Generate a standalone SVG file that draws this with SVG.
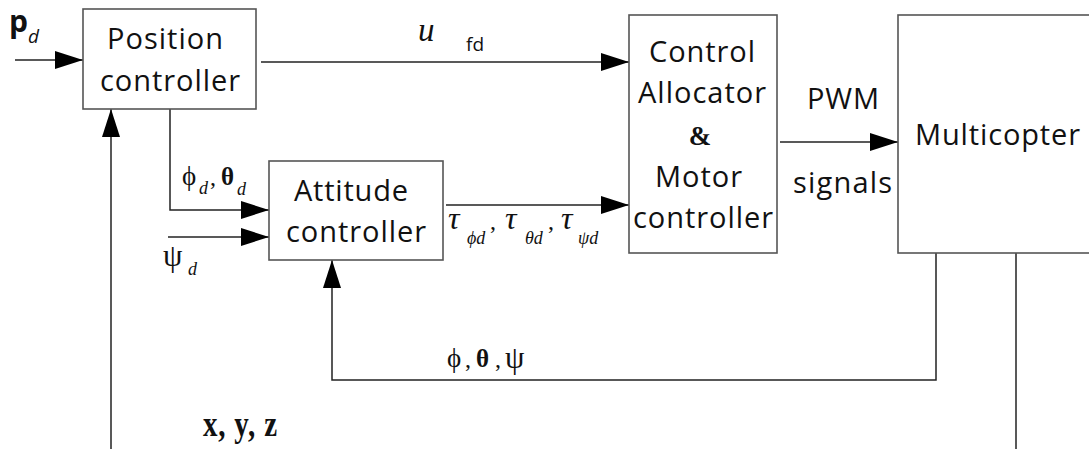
<svg xmlns="http://www.w3.org/2000/svg" width="1089" height="449" viewBox="0 0 1089 449">
<style>
.box{fill:#fff;stroke:#555;stroke-width:1.6}
.ln{fill:none;stroke:#222;stroke-width:1.5}
.t{font-family:"Open Sans","Noto Sans",sans-serif;font-size:29px;fill:#111}
.s{font-family:"Liberation Serif",serif;fill:#111}
</style>
<defs>
<marker id="ah" markerWidth="28" markerHeight="18" refX="28" refY="9" orient="auto" markerUnits="userSpaceOnUse">
<path d="M0,0 L28,9 L0,18 Z" fill="#000"/>
</marker>
</defs>
<rect width="1089" height="449" fill="#fff"/>
<g id="connectors">
<path class="ln" d="M15,60 H83" marker-end="url(#ah)"/>
<path class="ln" d="M261,62 H629" marker-end="url(#ah)"/>
<path class="ln" d="M170,109 V210 H269" marker-end="url(#ah)"/>
<path class="ln" d="M168,237 H269" marker-end="url(#ah)"/>
<path class="ln" d="M446,205 H629" marker-end="url(#ah)"/>
<path class="ln" d="M780,142 H898" marker-end="url(#ah)"/>
<path class="ln" d="M936,253 V380 H332 V260" marker-end="url(#ah)"/>
<path class="ln" d="M1016,253 V449"/>
<path class="ln" d="M111,449 V109" marker-end="url(#ah)"/>
</g>
<g id="position">
<rect class="box" x="83" y="9" width="173" height="100"/>
<text class="t" x="107" y="49" textLength="116">Position</text>
<text class="t" x="100" y="91" textLength="140">controller</text>
</g>
<g id="attitude">
<rect class="box" x="269" y="161" width="174" height="99"/>
<text class="t" x="294" y="201" textLength="114">Attitude</text>
<text class="t" x="286" y="242" textLength="140">controller</text>
</g>
<g id="allocator">
<rect class="box" x="629" y="15" width="148" height="238"/>
<text class="t" x="649" y="62" textLength="106">Control</text>
<text class="t" x="638" y="103" textLength="128">Allocator</text>
<text class="s" x="700" y="145" font-size="27" font-weight="bold" text-anchor="middle">&amp;</text>
<text class="t" x="655" y="187" textLength="87">Motor</text>
<text class="t" x="633" y="228" textLength="140">controller</text>
</g>
<g id="multicopter">
<rect class="box" x="898" y="15" width="200" height="238"/>
<text class="t" x="915" y="145" textLength="165">Multicopter</text>
</g>
<g id="labels">
<text x="9" y="32" font-family="Open Sans,sans-serif" font-weight="bold" font-size="30" fill="#111">p</text>
<text x="28" y="43" font-family="Open Sans,sans-serif" font-style="italic" font-size="19" fill="#111">d</text>
<text class="s" x="418" y="41" font-style="italic" font-size="33">u</text>
<text x="466" y="51" font-family="Open Sans,sans-serif" font-size="19" fill="#111">fd</text>
<text class="t" x="807" y="109" textLength="72">PWM</text>
<text class="t" x="793" y="193" textLength="99">signals</text>
<text class="s" x="182" y="185" font-size="27">ϕ</text>
<text class="s" x="199" y="194" font-size="18" font-style="italic">d</text>
<text class="s" x="210" y="185" font-size="24">,</text>
<text class="s" x="221" y="185" font-size="25" font-weight="bold">θ</text>
<text class="s" x="237" y="195" font-size="18" font-style="italic">d</text>
<text class="s" x="163" y="266" font-size="31">ψ</text>
<text class="s" x="188" y="275" font-size="18" font-style="italic">d</text>
<text class="s" x="448" y="229" font-size="32" font-style="italic">τ</text>
<text class="s" x="467" y="244" font-size="18" font-style="italic">ϕd</text>
<text class="s" x="490" y="229" font-size="24">,</text>
<text class="s" x="505" y="229" font-size="32" font-style="italic">τ</text>
<text class="s" x="525" y="244" font-size="18" font-style="italic">θd</text>
<text class="s" x="548" y="229" font-size="24">,</text>
<text class="s" x="561" y="229" font-size="32" font-style="italic">τ</text>
<text class="s" x="578" y="244" font-size="18" font-style="italic">ψd</text>
<text class="s" x="447" y="367" font-size="27">ϕ</text>
<text class="s" x="465" y="367" font-size="24">,</text>
<text class="s" x="476" y="367" font-size="25" font-weight="bold">θ</text>
<text class="s" x="495" y="367" font-size="24">,</text>
<text class="s" x="505" y="368" font-size="31">ψ</text>
<text class="s" x="0" y="0" font-size="29" font-weight="bold" textLength="74" transform="translate(203,436) scale(1,1.2)">x, y, z</text>
</g>
</svg>
